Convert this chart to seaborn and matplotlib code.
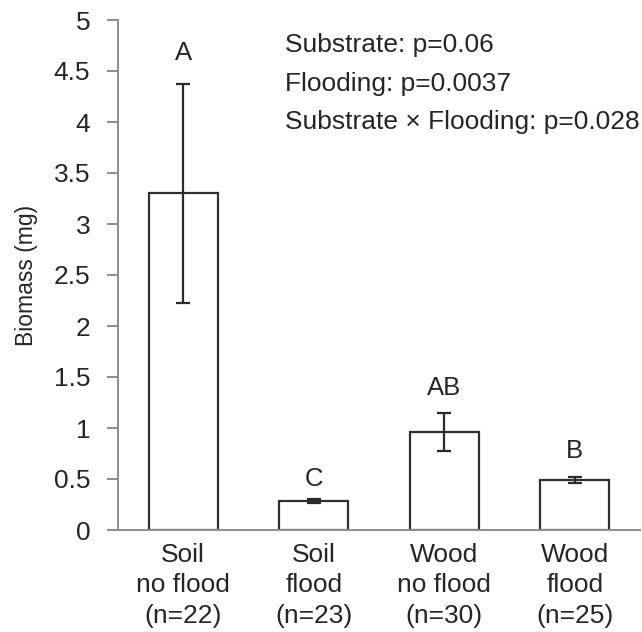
import matplotlib
matplotlib.use("Agg")
import matplotlib.pyplot as plt
import seaborn as sns
import pandas as pd

# Mean biomass per treatment, with standard errors and group letters
categories = ["Soil\nno flood\n(n=22)", "Soil\nflood\n(n=23)",
              "Wood\nno flood\n(n=30)", "Wood\nflood\n(n=25)"]
biomass = [3.30, 0.28, 0.96, 0.49]
std_err = [1.07, 0.02, 0.19, 0.03]
letters = ["A", "C", "AB", "B"]
letter_y = [4.68, 0.50, 1.39, 0.77]
stats_lines = ["Substrate: p=0.06", "Flooding: p=0.0037",
               "Substrate \u00d7 Flooding: p=0.028"]
yticks = [0, 0.5, 1, 1.5, 2, 2.5, 3, 3.5, 4, 4.5, 5]
ytick_labels = ["0", "0.5", "1", "1.5", "2", "2.5", "3", "3.5", "4", "4.5", "5"]

sns.set_style("white")
plt.rcParams["font.family"] = ["Liberation Sans", "DejaVu Sans"]
text_color = "#262626"
axis_color = "#8c8c8c"

df = pd.DataFrame({"group": categories, "biomass": biomass})

fig = plt.figure(figsize=(6.42, 6.32), dpi=100)
ax = fig.add_axes([118 / 642, (632 - 530) / 632, (640 - 118) / 642, (530 - 20) / 632])

sns.barplot(data=df, x="group", y="biomass", order=categories, color="white",
            edgecolor="#2e2e2e", linewidth=1.6, width=0.53, errorbar=None,
            ax=ax, zorder=2)
ax.errorbar(range(len(categories)), biomass, yerr=std_err, fmt="none",
            ecolor="#2a2a2a", elinewidth=1.6, capsize=4.8, capthick=1.6, zorder=3)

for i, (lab, y) in enumerate(zip(letters, letter_y)):
    ax.text(i, y, lab, ha="center", va="center", fontsize=18.5, color=text_color)

for k, line in enumerate(stats_lines):
    fig.text(285 / 642, 1 - (45 + 38.5 * k) / 632, line, ha="left", va="center",
             fontsize=19, color=text_color)

ax.set_xlim(-0.5, 3.5)
ax.set_ylim(0, 5)
ax.set_yticks(yticks)
ax.set_yticklabels(ytick_labels)
ax.set_xlabel("")
ax.set_ylabel("Biomass (mg)", fontsize=16.5, color=text_color, labelpad=11)

for side in ["top", "right"]:
    ax.spines[side].set_visible(False)
for side in ["left", "bottom"]:
    ax.spines[side].set_color(axis_color)
    ax.spines[side].set_linewidth(1.4)

ax.tick_params(axis="y", which="both", left=True, length=8, width=1.4,
               color=axis_color, labelsize=19, labelcolor=text_color, pad=12)
ax.tick_params(axis="x", which="both", bottom=False, labelsize=19,
               labelcolor=text_color, pad=6)
for t in ax.get_xticklabels():
    t.set_linespacing(1.33)

fig.savefig("out.png", dpi=100)
